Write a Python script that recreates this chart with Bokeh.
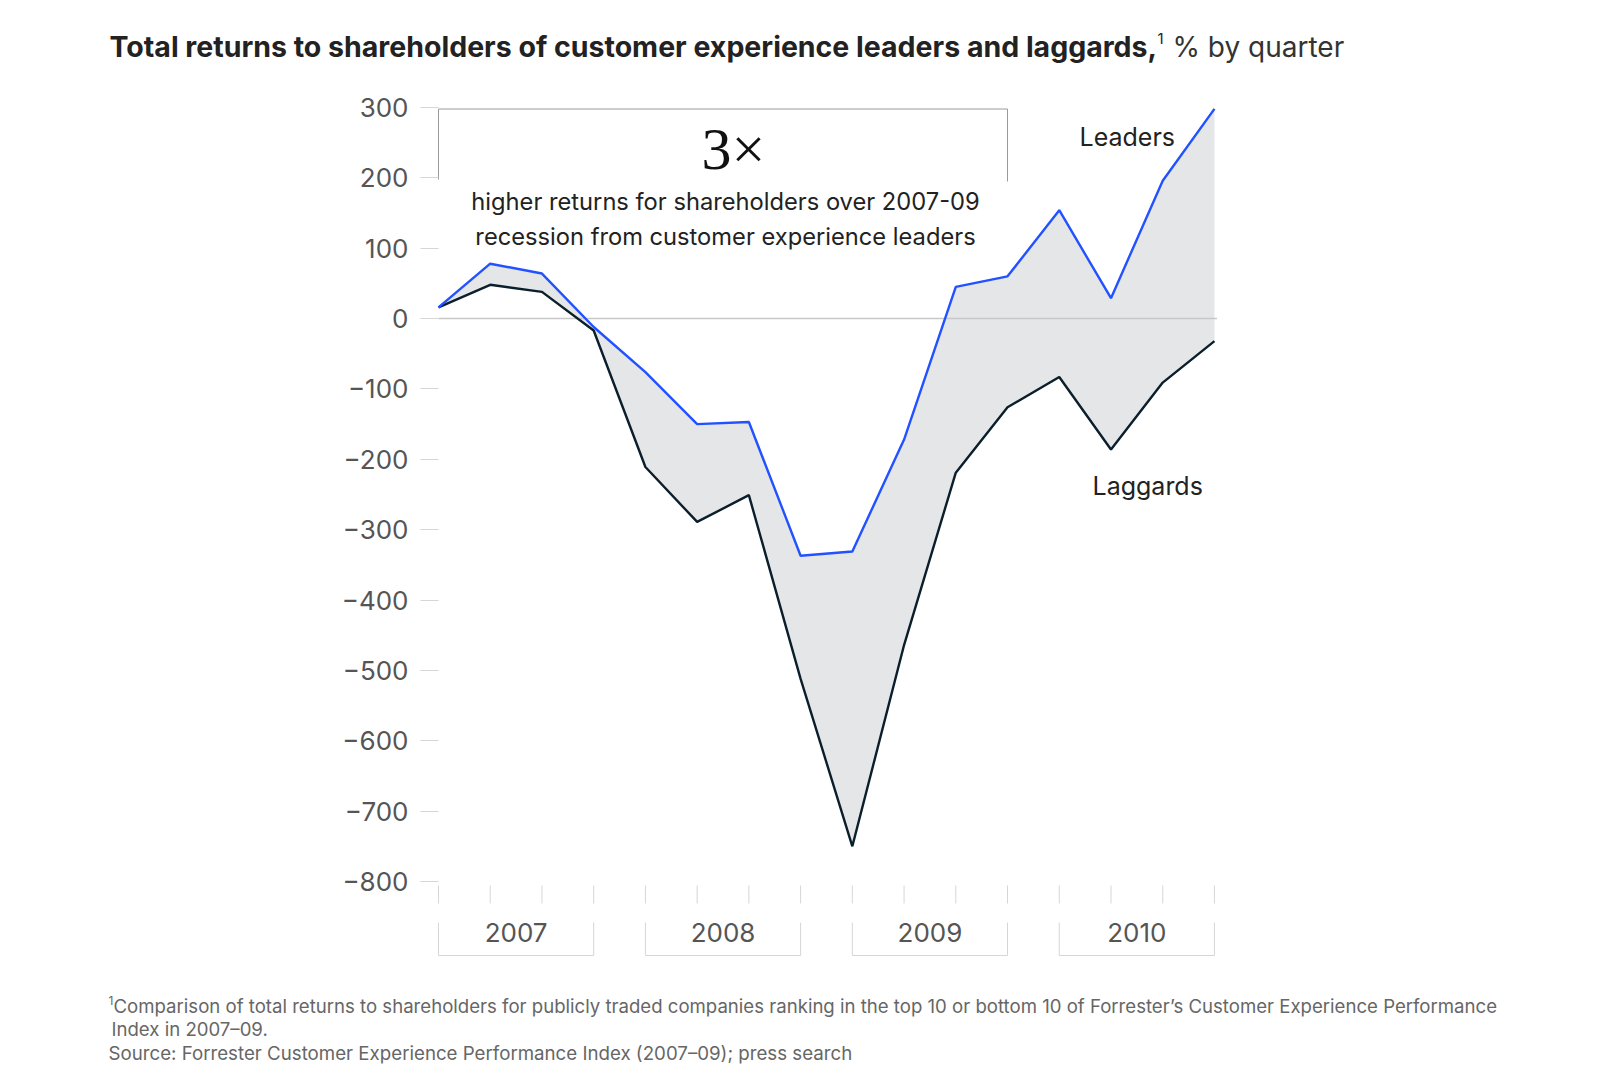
from bokeh.plotting import figure
from bokeh.models import Range1d, FixedTicker, Label, ColumnDataSource
from bokeh.embed import file_html
from bokeh.resources import INLINE

# ---------------- data ----------------
quarters = ["2007 Q1", "2007 Q2", "2007 Q3", "2007 Q4",
            "2008 Q1", "2008 Q2", "2008 Q3", "2008 Q4",
            "2009 Q1", "2009 Q2", "2009 Q3", "2009 Q4",
            "2010 Q1", "2010 Q2", "2010 Q3", "2010 Q4"]
leaders = [16, 78, 64, -12, -76, -150, -147, -337, -331, -172, 45, 60, 154, 29, 196, 298]
laggards = [16, 48, 38, -17, -211, -289, -251, -512, -750, -464, -219, -126, -83, -186, -91, -32]
years = ["2007", "2008", "2009", "2010"]
y_ticks = [300, 200, 100, 0, -100, -200, -300, -400, -500, -600, -700, -800]

# ---------------- geometry helpers (page pixels -> data) ----------------
W, H = 1596, 1086
FL = 100            # frame left (y-axis panel to its left)
PX_Q = 51.73        # pixels per quarter
PX_U = 0.7036       # pixels per 1 unit (%)
X0_PAGE = 438.0     # page x of first quarter
Y300_PAGE = 107.0   # page y of 300 tick

def qx(page_x):
    return (page_x - X0_PAGE) / PX_Q

def vy(page_y):
    return 300 - (page_y - Y300_PAGE) / PX_U

p = figure(width=W, height=H, output_backend="svg", toolbar_location=None,
           title=None,
           x_range=Range1d(qx(FL), qx(W)), y_range=Range1d(vy(H), vy(0)),
           x_axis_location=None,
           min_border_left=FL, min_border_right=0,
           min_border_top=0, min_border_bottom=0)
p.outline_line_color = None
p.grid.visible = False
p.background_fill_color = "white"
p.border_fill_color = "white"

# y axis, pinned at the first quarter
ya = p.yaxis[0]
ya.fixed_location = 0
ya.ticker = FixedTicker(ticks=y_ticks, minor_ticks=[])
ya.major_label_overrides = {t: (str(t).replace("-", "\u2212")) for t in y_ticks}
ya.axis_line_color = None
ya.major_tick_in = 0
ya.major_tick_out = 18
ya.major_tick_line_color = "#d6d6d6"
ya.major_tick_line_width = 1
ya.minor_tick_line_color = None
ya.major_label_standoff = 12
ya.major_label_text_font = "Inter"
ya.major_label_text_font_size = "26px"
ya.major_label_text_color = "#555555"
ya.major_label_text_font_style = "normal"

xs = list(range(len(quarters)))
src = ColumnDataSource(dict(x=xs, lead=leaders, lag=laggards, q=quarters))

# shaded gap
p.varea(x="x", y1="lag", y2="lead", source=src, fill_color="#e5e6e8")

# zero line
p.segment(x0=[0], y0=[0], x1=[len(quarters) - 1 + 0.05], y1=[0],
          line_color="#c8c8c8", line_width=1.5)

# lines
p.line(x="x", y="lag", source=src, line_color="#0a1e2c", line_width=2.4)
p.line(x="x", y="lead", source=src, line_color="#2251ff", line_width=2.4)

# quarter ticks
p.segment(x0=xs, y0=[vy(885)] * len(xs), x1=xs, y1=[vy(903)] * len(xs),
          line_color="#d6d6d6", line_width=1)

def lab(px, py, text, size, color="#222222", font="Inter", align="left", style="normal"):
    p.add_layout(Label(x=qx(px), y=vy(py), text=text, text_align=align,
                       text_baseline="middle", text_font=font,
                       text_font_size=size, text_color=color, text_font_style=style))

# year brackets and labels
n_per = 4
b_top, b_bot = vy(922), vy(955)
bx0, by0, bx1, by1 = [], [], [], []
for i, yr in enumerate(years):
    a = i * n_per
    b = a + n_per - 1
    bx0 += [a, b, a]; by0 += [b_top, b_top, b_bot]
    bx1 += [a, b, b]; by1 += [b_bot, b_bot, b_bot]
    p.add_layout(Label(x=(a + b) / 2, y=vy(932), text=yr, text_align="center",
                       text_baseline="middle", text_font="Inter",
                       text_font_size="26px", text_color="#555555"))
p.segment(x0=bx0, y0=by0, x1=bx1, y1=by1, line_color="#d6d6d6", line_width=1)

# annotation bracket
p.line(x=[0, 0, 11, 11], y=[vy(179), vy(108.5), vy(108.5), vy(181)],
       line_color="#9a9a9a", line_width=1)

lab(733, 148, "3\u00d7", "60px", color="#111111", font="Liberation Serif", align="center")
lab(725, 201, "higher returns for shareholders over 2007-09", "23.7px", align="center")
lab(725, 236, "recession from customer experience leaders", "23.7px", align="center")
lab(1079, 136, "Leaders", "25px")
lab(1092, 485, "Laggards", "25px")

# title
lab(109, 46, "Total returns to shareholders of customer experience leaders and laggards,",
    "28.5px", color="#222222", style="bold")
lab(1157, 38, "1", "15px", color="#222222")
lab(1172, 46, "% by quarter", "28px", color="#333333")

# footnotes
lab(108, 1000, "1", "12px", color="#666666")
lab(113, 1005, "Comparison of total returns to shareholders for publicly traded companies ranking in the top 10 or bottom 10 of Forrester\u2019s Customer Experience Performance",
    "18.6px", color="#666666")
lab(111, 1028, "Index in 2007\u201309.", "18.6px", color="#666666")
lab(108, 1053, "Source: Forrester Customer Experience Performance Index (2007\u201309); press search",
    "18.7px", color="#666666")

open("out.html", "w").write(file_html(p, INLINE))
